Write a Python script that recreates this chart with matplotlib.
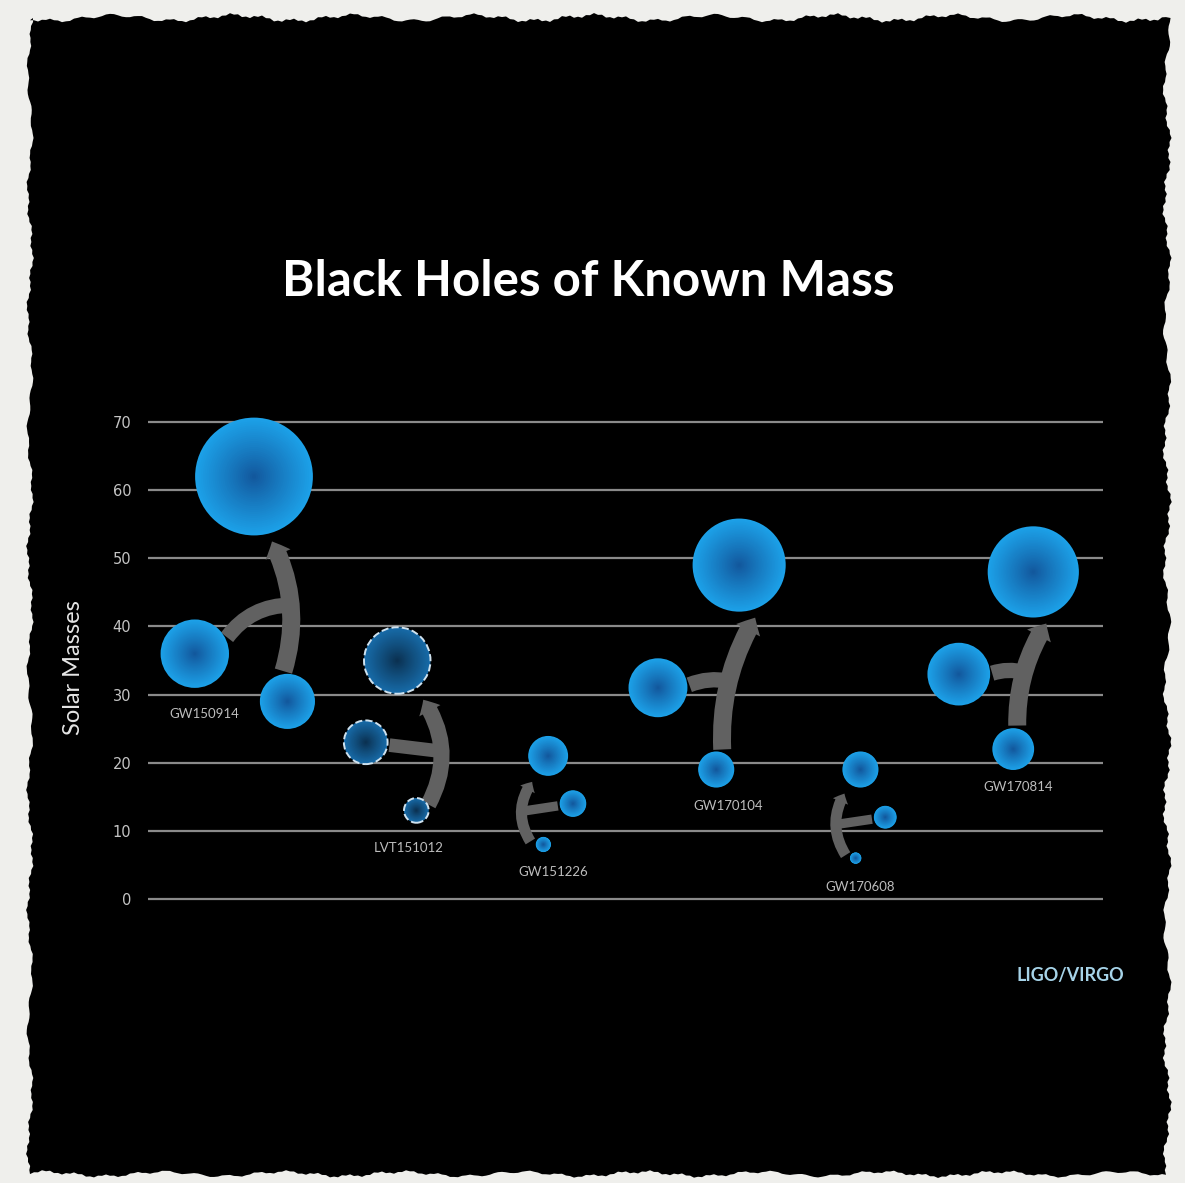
import matplotlib
matplotlib.use('Agg')
import matplotlib.pyplot as plt
from matplotlib.patches import FancyArrowPatch, Polygon
import numpy as np

# merger events: two progenitor black holes and the final remnant
events = ['GW150914', 'LVT151012', 'GW151226', 'GW170104', 'GW170608', 'GW170814']
primary = [36, 23, 14, 31, 12, 33]
secondary = [29, 13, 8, 19, 6, 22]
final = [62, 35, 21, 49, 19, 48]
candidate = [False, True, False, False, False, False]

# horizontal placement of each bubble (chart units 0-100)
x_primary = [4.9, 22.8, 44.5, 53.4, 77.2, 84.9]
x_secondary = [14.6, 28.1, 41.4, 59.5, 74.1, 90.6]
x_final = [11.1, 26.1, 41.9, 61.9, 74.6, 92.7]

# label anchor for each event
label_x = [5.9, 27.3, 42.4, 60.8, 74.6, 91.1]
label_y = [27.1, 7.5, 4.0, 13.6, 1.8, 16.5]

yticks = [0, 10, 20, 30, 40, 50, 60, 70]

# arrow styling per event (pixels)
arrow_bend = [0.2, 0.3, -0.33, -0.15, -0.3, -0.15]
branch_bend = [-0.25, 0.0, 0.0, -0.15, 0.0, -0.15]
start_dx = [-4, 12, -13, 6, -10, 4]
end_dx = [18, 26, -16, 16, -16, 13]
arrow_w = [18, 16, 11, 18, 11, 18]

W, H = 1185, 1183
fig = plt.figure(figsize=(W / 100, H / 100), dpi=100)
fig.patch.set_facecolor('#efefec')


def wobble(n, ph, amp):
    t = np.arange(n)
    return amp * (0.55 * np.sin(0.21 * t + ph) + 0.3 * np.sin(0.83 * t + 2 * ph)
                  + 0.15 * np.sin(3.1 * t + 3 * ph))


# ragged black card
L, R, T, B = 30, 1167, 18, 1174
xs_top = np.arange(L, R, 4)
ys_side = np.arange(T, B, 4)
top = np.c_[xs_top, T + wobble(len(xs_top), 0.3, 5)]
right = np.c_[R + wobble(len(ys_side), 1.1, 5), ys_side]
bottom = np.c_[xs_top[::-1], B + wobble(len(xs_top), 2.3, 4)]
left = np.c_[L + wobble(len(ys_side), 3.7, 4), ys_side[::-1]]
pts = np.vstack([top, right, bottom, left])
pts = np.c_[pts[:, 0] / W, 1 - pts[:, 1] / H]
fig.add_artist(Polygon(pts, closed=True, facecolor='black', edgecolor='none',
                       transform=fig.transFigure, zorder=0))

ax = fig.add_axes([148 / W, 1 - 905.8 / H, 955 / W, 490.6 / H])
ax.set_facecolor('none')
ax.set_xlim(0, 100)
ax.set_ylim(-1, 71)
for s in ax.spines.values():
    s.set_visible(False)
ax.set_xticks([])
ax.set_yticks(yticks)
ax.tick_params(axis='y', length=0, pad=12, labelcolor='#c4c4c4', labelsize=10.5)
ax.grid(axis='y', color='#8a8a8a', linewidth=1.6)
ax.set_axisbelow(True)

to_px = ax.transData.transform
to_data = ax.transData.inverted().transform


def radius_px(m):
    return 0.95 * np.asarray(m, dtype=float)


arrow_col = '#616161'
for i in range(len(events)):
    pp = to_px((x_primary[i], primary[i]))
    ps = to_px((x_secondary[i], secondary[i]))
    pf = to_px((x_final[i], final[i]))
    rp, rs, rf = radius_px(primary[i]), radius_px(secondary[i]), radius_px(final[i])

    sdx = start_dx[i]
    start = ps + np.array([sdx, np.sqrt(max(rs ** 2 - sdx ** 2, 0)) + 3])
    end = pf + np.array([end_dx[i], -(rf + 6)])
    tw = arrow_w[i] * 0.72
    main = FancyArrowPatch(to_data(start), to_data(end),
                           connectionstyle=f'arc3,rad={arrow_bend[i]}',
                           arrowstyle=f'simple,head_length={tw * 0.8},head_width={tw * 1.5},tail_width={tw}',
                           mutation_scale=1, color=arrow_col, lw=0,
                           shrinkA=0, shrinkB=0, zorder=2)
    ax.add_patch(main)

    d = end - start
    mid = (start + end) / 2 + 0.5 * arrow_bend[i] * np.array([d[1], -d[0]])
    u = (mid - pp) / np.hypot(*(mid - pp))
    bstart = pp + u * (rp + 2)
    branch = FancyArrowPatch(to_data(bstart), to_data(mid),
                             connectionstyle=f'arc3,rad={branch_bend[i]}',
                             arrowstyle='-', mutation_scale=1, color=arrow_col,
                             lw=tw * 0.85, shrinkA=0, shrinkB=0, zorder=2)
    branch.set_capstyle('butt')
    ax.add_patch(branch)

# bubbles with a dark core fading out to a bright rim
bx = np.array(x_primary + x_secondary + x_final)
by = np.array(primary + secondary + final, dtype=float)
faded = np.array(candidate * 3)
diam_pt = 2 * radius_px(by) * 0.72

rim = np.where(faded[:, None], [[0.09, 0.42, 0.66]], [[0.11, 0.63, 0.91]])
core = np.where(faded[:, None], [[0.04, 0.18, 0.30]], [[0.07, 0.33, 0.60]])
N = 30
for k in range(N):
    f = 1 - k / N
    cols = core + (rim - core) * f ** 0.9
    ax.scatter(bx, by, s=(diam_pt * f) ** 2, c=cols, linewidths=0,
               clip_on=False, zorder=3)
ax.scatter(bx[faded], by[faded], s=diam_pt[faded] ** 2, facecolors='none',
           edgecolors='#cfe2ef', linewidths=1.4, linestyles='--',
           clip_on=False, zorder=4)

for name, lx, ly in zip(events, label_x, label_y):
    ax.text(lx, ly, name, ha='center', va='center', fontsize=9.5,
            color='#bdbdbd', family='Lato')

fig.text(588 / W, 1 - 281 / H, 'Black Holes of Known Mass', ha='center', va='center',
         fontsize=35.5, fontweight='bold', color='white', family='Lato')
fig.text(74 / W, 1 - 668 / H, 'Solar Masses', rotation=90, ha='center', va='center',
         fontsize=17, color='#e6e6e6', family='Lato')
fig.text(1070 / W, 1 - 976 / H, 'LIGO/VIRGO', ha='center', va='center',
         fontsize=13, fontweight='bold', color='#a6d3e8', family='Lato')

fig.savefig('out.png', dpi=100, facecolor=fig.get_facecolor())
